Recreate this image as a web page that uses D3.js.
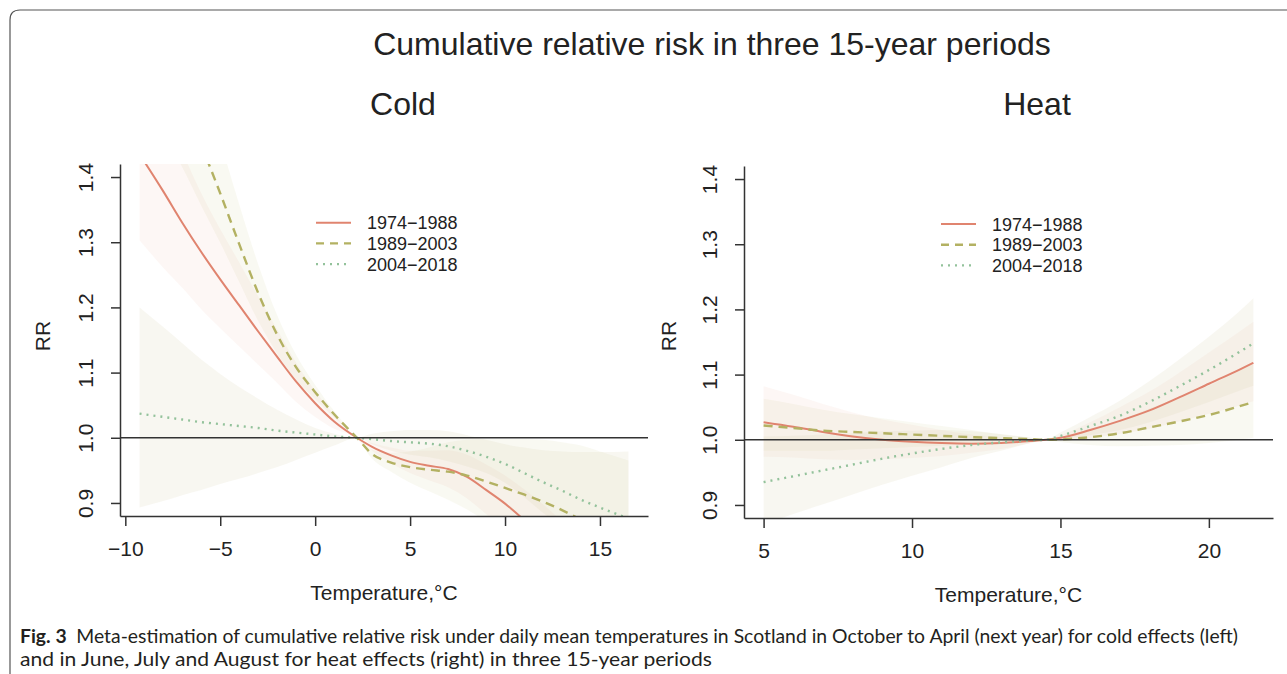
<!DOCTYPE html>
<html>
<head>
<meta charset="utf-8">
<script src="https://cdn.jsdelivr.net/npm/d3@7"></script>
<style>
body { margin: 0; background: #fff; }
svg text { font-family: "Liberation Sans", Arial, Helvetica, sans-serif; fill: #222; }
.cap { font-family: Lato, "Open Sans", sans-serif; fill: #231f20; }
</style>
</head>
<body>
<svg id="chart" width="1287" height="674"></svg>
<script>
// values (RR per temperature, with 95% bands)
var periods = ['1974\u22121988', '1989\u22122003', '2004\u22122018'];

var coldTemp = [-9.25, -8, -7, -6, -5, -4, -3, -2, -1, 0, 1, 2.2, 3, 4, 5, 6, 7, 8, 9, 10, 11, 12, 13, 14, 15, 16.5];
var cold1 = [1.435, 1.378, 1.330, 1.285, 1.243, 1.203, 1.163, 1.124, 1.086, 1.053, 1.025, 1.000, 0.986, 0.973, 0.963, 0.957, 0.952, 0.940, 0.920, 0.899, 0.874, 0.847, 0.818, 0.789, 0.760, 0.716];
var cold1Lo = [1.303, 1.261, 1.230, 1.197, 1.168, 1.140, 1.112, 1.084, 1.055, 1.032, 1.014, 1.000, 0.980, 0.961, 0.946, 0.935, 0.924, 0.907, 0.883, 0.858, 0.829, 0.799, 0.767, 0.736, 0.705, 0.659];
var cold1Hi = [1.580, 1.499, 1.438, 1.375, 1.320, 1.269, 1.217, 1.166, 1.115, 1.072, 1.036, 1.000, 0.992, 0.985, 0.980, 0.980, 0.981, 0.974, 0.959, 0.942, 0.921, 0.898, 0.872, 0.846, 0.819, 0.778];
var cold2 = [1.710, 1.610, 1.530, 1.450, 1.375, 1.297, 1.222, 1.158, 1.108, 1.070, 1.036, 1.000, 0.975, 0.962, 0.955, 0.951, 0.948, 0.942, 0.933, 0.923, 0.913, 0.902, 0.889, 0.874, 0.857, 0.830];
var cold2Lo = [1.539, 1.465, 1.415, 1.356, 1.299, 1.239, 1.179, 1.129, 1.089, 1.059, 1.031, 1.000, 0.968, 0.948, 0.931, 0.918, 0.905, 0.890, 0.872, 0.854, 0.835, 0.816, 0.796, 0.773, 0.750, 0.714];
var cold2Hi = [1.900, 1.769, 1.654, 1.551, 1.455, 1.358, 1.266, 1.188, 1.127, 1.081, 1.041, 1.000, 0.982, 0.977, 0.979, 0.985, 0.993, 0.997, 0.998, 0.998, 0.998, 0.997, 0.993, 0.988, 0.979, 0.965];
var cold3 = [1.037, 1.032, 1.028, 1.024, 1.021, 1.018, 1.015, 1.011, 1.008, 1.005, 1.002, 1.000, 0.998, 0.995, 0.993, 0.991, 0.987, 0.980, 0.971, 0.960, 0.946, 0.932, 0.919, 0.905, 0.893, 0.876];
var cold3Lo = [0.893, 0.903, 0.912, 0.920, 0.929, 0.937, 0.946, 0.955, 0.966, 0.977, 0.988, 1.000, 0.990, 0.980, 0.974, 0.970, 0.964, 0.956, 0.946, 0.931, 0.909, 0.885, 0.863, 0.838, 0.815, 0.784];
var cold3Hi = [1.200, 1.170, 1.145, 1.120, 1.098, 1.078, 1.060, 1.043, 1.028, 1.015, 1.006, 1.000, 1.006, 1.010, 1.012, 1.012, 1.010, 1.004, 0.997, 0.990, 0.985, 0.981, 0.979, 0.978, 0.978, 0.979];

var heatTemp = [5, 6, 7, 8, 9, 10, 11, 12, 13, 14, 14.5, 15, 16, 17, 18, 19, 20, 21, 21.5];
var heat1 = [1.027, 1.020, 1.012, 1.005, 1.000, 0.997, 0.995, 0.994, 0.995, 0.998, 1.000, 1.003, 1.015, 1.029, 1.045, 1.065, 1.086, 1.107, 1.118];
var heat1Lo = [0.974, 0.973, 0.970, 0.969, 0.970, 0.972, 0.975, 0.980, 0.986, 0.995, 1.000, 0.999, 1.003, 1.009, 1.017, 1.028, 1.040, 1.052, 1.059];
var heat1Hi = [1.082, 1.069, 1.055, 1.042, 1.031, 1.023, 1.015, 1.008, 1.004, 1.001, 1.000, 1.007, 1.027, 1.050, 1.074, 1.103, 1.134, 1.165, 1.181];
var heat2 = [1.022, 1.018, 1.014, 1.012, 1.010, 1.008, 1.006, 1.004, 1.0025, 1.001, 1.000, 1.0005, 1.004, 1.010, 1.019, 1.028, 1.038, 1.051, 1.058];
var heat2Lo = [0.983, 0.983, 0.983, 0.985, 0.987, 0.989, 0.991, 0.993, 0.997, 0.999, 1.000, 0.9965, 0.992, 0.990, 0.991, 0.992, 0.995, 1.000, 1.003];
var heat2Hi = [1.063, 1.055, 1.046, 1.039, 1.033, 1.027, 1.021, 1.015, 1.008, 1.003, 1.000, 1.0045, 1.016, 1.030, 1.048, 1.065, 1.083, 1.105, 1.116];
var heat3 = [0.935, 0.944, 0.953, 0.962, 0.971, 0.979, 0.986, 0.992, 0.996, 0.999, 1.000, 1.006, 1.021, 1.037, 1.058, 1.082, 1.107, 1.134, 1.148];
var heat3Lo = [0.870, 0.886, 0.901, 0.916, 0.931, 0.945, 0.958, 0.972, 0.983, 0.995, 1.000, 1.001, 1.007, 1.015, 1.027, 1.042, 1.058, 1.075, 1.083];
var heat3Hi = [1.005, 1.006, 1.008, 1.010, 1.013, 1.014, 1.015, 1.013, 1.009, 1.003, 1.000, 1.011, 1.035, 1.060, 1.090, 1.123, 1.158, 1.196, 1.217];

var coldTicks = [-10, -5, 0, 5, 10, 15];
var heatTicks = [5, 10, 15, 20];
var rrTicks = [0.9, 1.0, 1.1, 1.2, 1.3, 1.4];
var rrLimits = [0.9, 1.4];

var lineColors = ['#e0846f', '#b3b162', '#93c29b'];
var bandColors = ['rgba(232,150,125,0.08)', 'rgba(200,195,130,0.10)', 'rgba(210,208,165,0.16)'];
var dashes = [null, '9,6', '2,5'];
var widths = [2, 2.4, 2.4];

var svg = d3.select('#chart');

// R style 4% padding of the axis range
function pad(ext) {
   var r = ext[1] - ext[0];
   return [ext[0] - 0.04 * r, ext[1] + 0.04 * r];
}

function panel(p) {
   var x = d3.scaleLinear().domain(pad(d3.extent(p.temp))).range([p.left, p.right]);
   var y = d3.scaleLinear().domain(pad(rrLimits)).range([p.bottom, p.top]);

   svg.append('clipPath').attr('id', 'clip-' + p.name).append('rect')
      .attr('x', p.left).attr('y', p.top).attr('width', p.right - p.left).attr('height', p.bottom - p.top);
   var plot = svg.append('g').attr('clip-path', 'url(#clip-' + p.name + ')');

   var area = d3.area().x(function (d) { return x(d.t); })
      .y0(function (d) { return y(d.lo); }).y1(function (d) { return y(d.hi); })
      .curve(d3.curveMonotoneX);
   var line = d3.line().x(function (d) { return x(d.t); }).y(function (d) { return y(d.v); })
      .curve(d3.curveMonotoneX);

   var rows = p.lines.map(function (vals, i) {
      return p.temp.map(function (t, j) {
         return { t: t, v: vals[j], lo: p.los[i][j], hi: p.his[i][j] };
      });
   });

   rows.forEach(function (r, i) {
      plot.append('path').datum(r).attr('d', area).attr('fill', bandColors[i]).attr('stroke', 'none');
   });
   rows.forEach(function (r, i) {
      plot.append('path').datum(r).attr('d', line).attr('fill', 'none')
         .attr('stroke', lineColors[i]).attr('stroke-width', widths[i])
         .attr('stroke-dasharray', dashes[i]);
   });

   // reference line RR = 1
   svg.append('line').attr('x1', p.left).attr('x2', p.right).attr('y1', y(1)).attr('y2', y(1))
      .attr('stroke', '#333').attr('stroke-width', 1.5);

   var xAxis = d3.axisBottom(x).tickValues(p.ticks).tickSize(10).tickSizeOuter(0);
   var gx = svg.append('g').attr('transform', 'translate(0,' + p.bottom + ')').call(xAxis);
   gx.selectAll('text').attr('y', 40).attr('dy', 0);

   var yAxis = d3.axisLeft(y).tickValues(rrTicks).tickFormat(d3.format('.1f')).tickSize(9).tickSizeOuter(0);
   var gy = svg.append('g').attr('transform', 'translate(' + p.left + ',0)').call(yAxis);
   gy.selectAll('text').attr('x', 0).attr('y', -27).attr('dy', 0)
      .attr('transform', 'rotate(-90)').attr('text-anchor', 'middle');

   [gx, gy].forEach(function (g) {
      g.attr('font-size', 21).attr('font-family', null).attr('color', '#222');
      g.selectAll('.domain, .tick line').attr('stroke', '#333').attr('stroke-width', 1.5);
   });

   svg.append('text').text('Temperature,\u00b0C').attr('x', (p.left + p.right) / 2).attr('y', p.bottom + 84)
      .attr('text-anchor', 'middle').style('font-size', '21px');
   svg.append('text').text('RR').attr('transform', 'translate(' + p.rrX + ',' + 336 + ')rotate(-90)')
      .attr('text-anchor', 'middle').style('font-size', '21px');
   svg.append('text').text(p.title).attr('x', p.titleX).attr('y', 115)
      .attr('text-anchor', 'middle').style('font-size', '32px');

   // legend
   periods.forEach(function (name, i) {
      var ly = p.legY + i * 20.7;
      svg.append('line').attr('x1', p.legX).attr('x2', p.legX + 35).attr('y1', ly).attr('y2', ly)
         .attr('stroke', lineColors[i]).attr('stroke-width', widths[i]).attr('stroke-dasharray', i === 1 ? '8,6' : dashes[i]);
      svg.append('text').text(name).attr('x', p.legX + 51).attr('y', ly + 6.5).style('font-size', '18px');
   });
}

panel({ name: 'cold', title: 'Cold', titleX: 403, temp: coldTemp, ticks: coldTicks,
   lines: [cold1, cold2, cold3], los: [cold1Lo, cold2Lo, cold3Lo], his: [cold1Hi, cold2Hi, cold3Hi],
   left: 120, right: 648, top: 164, bottom: 516, rrX: 50, legX: 316, legY: 222.7 });
panel({ name: 'heat', title: 'Heat', titleX: 1037, temp: heatTemp, ticks: heatTicks,
   lines: [heat1, heat2, heat3], los: [heat1Lo, heat2Lo, heat3Lo], his: [heat1Hi, heat2Hi, heat3Hi],
   left: 744, right: 1273, top: 166, bottom: 518, rrX: 676, legX: 941, legY: 224 });

svg.append('text').text('Cumulative relative risk in three 15-year periods')
   .attr('x', 712).attr('y', 55).attr('text-anchor', 'middle').style('font-size', '32px');

// frame and caption
svg.append('path').attr('d', 'M10,674V20Q10,10 20,10H1287').attr('fill', 'none')
   .attr('stroke', '#555').attr('stroke-width', 1.2);

var cap1 = svg.append('text').attr('class', 'cap').attr('x', 20).attr('y', 643)
   .attr('textLength', 1218).attr('lengthAdjust', 'spacingAndGlyphs').style('font-size', '19px');
cap1.append('tspan').text('Fig. 3').style('font-weight', 'bold');
cap1.append('tspan').text('\u2002Meta-estimation of cumulative relative risk under daily mean temperatures in Scotland in October to April (next year) for cold effects (left)');
svg.append('text').attr('class', 'cap').attr('x', 20).attr('y', 666)
   .attr('textLength', 692).attr('lengthAdjust', 'spacingAndGlyphs').style('font-size', '19px')
   .text('and in June, July and August for heat effects (right) in three 15-year periods');
</script>
</body>
</html>
